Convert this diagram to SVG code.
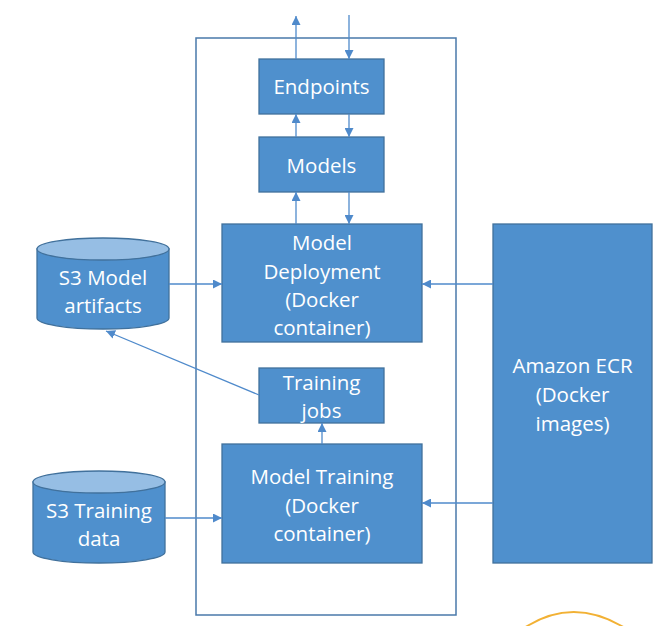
<svg xmlns="http://www.w3.org/2000/svg" width="661" height="626" viewBox="0 0 661 626">
<style>
.box{fill:#4F90CD;stroke:#41719C;stroke-width:1.3}
.top{fill:#96BEE4;stroke:#41719C;stroke-width:1.3}
.t{font-family:"Open Sans","Liberation Sans",sans-serif;font-size:20.5px;fill:#fff;text-anchor:middle;dominant-baseline:central}
.c{fill:none;stroke:#4F8ACB;stroke-width:1.3}
</style>
<defs>
<marker id="ah" viewBox="0 0 10 10" refX="10" refY="5" markerWidth="9" markerHeight="9" markerUnits="userSpaceOnUse" orient="auto">
<path d="M0,0 L10,5 L0,10 z" fill="#4F8ACB"/>
</marker>
</defs>
<rect id="frame" x="196" y="38" width="260" height="577" fill="none" stroke="#4A79AA" stroke-width="1.5"/>
<g id="endpoints"><rect class="box" x="259" y="59" width="125" height="55"/><text class="t" x="321.5" y="86">Endpoints</text></g>
<g id="models"><rect class="box" x="259" y="137" width="125" height="55"/><text class="t" x="321.5" y="165">Models</text></g>
<g id="deployment"><rect class="box" x="222" y="224" width="200" height="118"/>
<text class="t" x="322" y="242">Model</text><text class="t" x="322" y="271">Deployment</text><text class="t" x="322" y="299">(Docker</text><text class="t" x="322" y="327">container)</text></g>
<g id="trainingjobs"><rect class="box" x="259" y="368" width="125" height="55"/><text class="t" x="321.5" y="382">Training</text><text class="t" x="321.5" y="410">jobs</text></g>
<g id="training"><rect class="box" x="222" y="444" width="200" height="119"/>
<text class="t" x="322" y="476">Model Training</text><text class="t" x="322" y="505">(Docker</text><text class="t" x="322" y="533">container)</text></g>
<g id="ecr"><rect class="box" x="493" y="224" width="159" height="339"/>
<text class="t" x="572.5" y="365">Amazon ECR</text><text class="t" x="572.5" y="394">(Docker</text><text class="t" x="572.5" y="423">images)</text></g>
<g id="s3model">
<path class="box" d="M37,249 V318 A66,11 0 0 0 169,318 V249 Z"/>
<ellipse class="top" cx="103" cy="249" rx="66" ry="11"/>
<text class="t" x="103" y="277">S3 Model</text><text class="t" x="103" y="305">artifacts</text></g>
<g id="s3training">
<path class="box" d="M33,482 V552 A66,11 0 0 0 165,552 V482 Z"/>
<ellipse class="top" cx="99" cy="482" rx="66" ry="11"/>
<text class="t" x="99" y="510">S3 Training</text><text class="t" x="99" y="538">data</text></g>
<g id="connectors">
<line class="c" x1="296" y1="59" x2="296" y2="16" marker-end="url(#ah)"/>
<line class="c" x1="349" y1="15" x2="349" y2="59" marker-end="url(#ah)"/>
<line class="c" x1="296" y1="137" x2="296" y2="114" marker-end="url(#ah)"/>
<line class="c" x1="349" y1="114" x2="349" y2="137" marker-end="url(#ah)"/>
<line class="c" x1="296" y1="224" x2="296" y2="192" marker-end="url(#ah)"/>
<line class="c" x1="349" y1="192" x2="349" y2="224" marker-end="url(#ah)"/>
<line class="c" x1="169" y1="284" x2="222" y2="284" marker-end="url(#ah)"/>
<line class="c" x1="493" y1="284" x2="422" y2="284" marker-end="url(#ah)"/>
<line class="c" x1="259" y1="395" x2="106" y2="331" marker-end="url(#ah)"/>
<line class="c" x1="322" y1="444" x2="322" y2="423" marker-end="url(#ah)"/>
<line class="c" x1="165" y1="518" x2="222" y2="518" marker-end="url(#ah)"/>
<line class="c" x1="493" y1="503" x2="422" y2="503" marker-end="url(#ah)"/>
</g>
<path d="M524,628 Q573,596 625,628" fill="none" stroke="#F2B134" stroke-width="2"/>
</svg>
